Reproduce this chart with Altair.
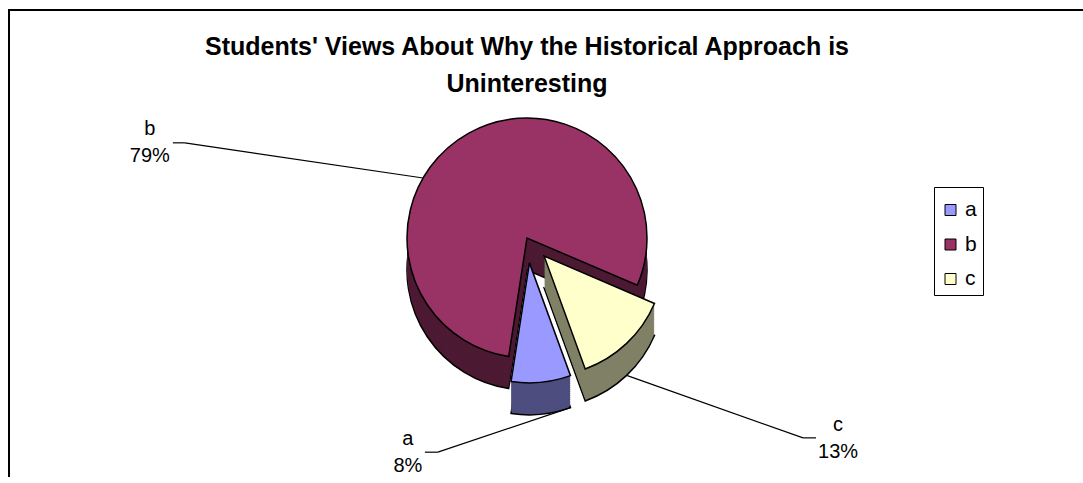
import math
import altair as alt
import pandas as pd

# ---- data ----
categories = ["a", "b", "c"]
values = [8, 79, 13]
top_colors = ["#9999FF", "#993366", "#FFFFCC"]
side_colors = ["#4D4D80", "#4D1A33", "#808066"]
title_lines = ["Students' Views About Why the Historical Approach is", "Uninteresting"]

# ---- layout / style ----
W, H = 1075, 467
START_DEG = 160.0
R = 120
CX, CY = 519, 228
DEPTH = 32
EXPLODE = {"a": 25, "b": 0, "c": 25}
# label radius, label angle offset (deg), leader anchor offset (deg),
# tick start dx, tick end dx (near pie), tick dy, leader from bottom face
LABEL = {
    "a": (239, 35.5, -14.4, 17, 30, 7, True),
    "b": (391, -45.7, -31, 23, 35, 8, False),
    "c": (366, -14.8, 0, -22, -35, 7, True),
}
FONT = "Liberation Sans"

total = sum(values)
deg_per = 360.0 / total
df = pd.DataFrame({"cat": categories, "value": values, "order": list(range(len(categories)))})

# explode offsets derived from the slice mid angles
offsets = {}
cum = 0
for cat, v in zip(categories, values):
    mid = math.radians(START_DEG + (cum + v / 2) * deg_per)
    e = EXPLODE[cat]
    offsets[cat] = (e * math.sin(mid), -e * math.cos(mid))
    cum += v

theta_scale = alt.Scale(domain=[0, total],
                        range=[math.radians(START_DEG), math.radians(START_DEG) + 2 * math.pi])
color_scale = alt.Scale(domain=categories, range=top_colors)
legend = alt.Legend(title=" ", titleFontSize=3, titlePadding=3.5, orient="none",
                    legendX=926, legendY=177,
                    strokeColor="black", padding=6, symbolType="square", symbolSize=121,
                    symbolStrokeColor="black", symbolStrokeWidth=1, labelFontSize=21,
                    labelFont=FONT, labelColor="black", rowPadding=12.5, labelOffset=4)

stacked = alt.Chart(df).transform_stack(
    stack="value", groupby=[], as_=["v0", "v1"],
    sort=[alt.SortField("order", order="ascending")])

layers = []

# frame (top and left border)
frame_data = alt.Data(values=[{}])
layers.append(alt.Chart(frame_data).mark_rule(color="black", strokeWidth=2).encode(
    x=alt.value(0), x2=alt.value(W), y=alt.value(0)))
layers.append(alt.Chart(frame_data).mark_rule(color="black", strokeWidth=2).encode(
    x=alt.value(1), y=alt.value(0), y2=alt.value(H + 10)))

for cat in ["b", "c", "a"]:
    i = categories.index(cat)
    ex, ey = offsets[cat]
    sel = stacked.transform_filter(alt.datum.cat == cat)
    enc = dict(theta=alt.Theta("v0:Q", scale=theta_scale), theta2="v1:Q")
    for k in range(DEPTH, 0, -2):
        kw = dict(x=CX + ex, y=CY + ey + k, outerRadius=R, fill=side_colors[i])
        if k == DEPTH:
            kw.update(stroke="black", strokeWidth=1.5)
        else:
            kw.update(strokeWidth=0)
        layers.append(sel.mark_arc(**kw).encode(**enc))
    layers.append(sel.mark_arc(x=CX + ex, y=CY + ey, outerRadius=R, stroke="black",
                               strokeWidth=1.5, opacity=1).encode(
        **enc, color=alt.Color("cat:N", scale=color_scale, legend=legend)))

# labels and leader lines
for cat in categories:
    ex, ey = offsets[cat]
    rl, loff, aoff, t0, t1, tdy, bottom = LABEL[cat]
    dep = DEPTH if bottom else 0
    sel = stacked.transform_filter(alt.datum.cat == cat)
    lab = sel.transform_calculate(
        lt=f"(datum.v0 + datum.v1) / 2 + {loff / deg_per}",
        label="datum.cat + '\\n' + datum.value + '%'",
    ).mark_text(x=CX, y=CY, radius=rl, fontSize=20, font=FONT, lineBreak="\n",
                lineHeight=27, align="center", baseline="alphabetic", color="black").encode(
        theta=alt.Theta("lt:Q", scale=theta_scale), text="label:N")
    layers.append(lab)
    geo = sel.transform_calculate(
        am=f"({START_DEG} + (datum.v0 + datum.v1) / 2 * {deg_per} + {aoff}) * PI / 180",
        lm=f"({START_DEG} + (datum.v0 + datum.v1) / 2 * {deg_per} + {loff}) * PI / 180",
    ).transform_calculate(
        sx=f"{CX + ex} + {R} * sin(datum.am)",
        sy=f"{CY + ey + dep} - {R} * cos(datum.am)",
        lx=f"{CX} + {rl} * sin(datum.lm)",
        ly=f"{CY} - {rl} * cos(datum.lm)",
    ).transform_calculate(
        tx0=f"datum.lx + {t0}",
        tx1=f"datum.lx + {t1}",
        ty=f"datum.ly + {tdy}",
    )
    layers.append(geo.mark_rule(color="black", strokeWidth=1.2).encode(
        x=alt.X("tx1:Q", scale=None, axis=None),
        y=alt.Y("ty:Q", scale=None, axis=None),
        x2="sx:Q", y2="sy:Q"))
    layers.append(geo.mark_rule(color="black", strokeWidth=1.2).encode(
        x=alt.X("tx0:Q", scale=None, axis=None),
        y=alt.Y("ty:Q", scale=None, axis=None),
        x2="tx1:Q"))

chart = alt.layer(*layers).properties(
    width=W, height=H,
    autosize=alt.AutoSizeParams(type="none"),
    padding={"left": 8, "top": 10, "right": 0, "bottom": 0},
    title=alt.TitleParams(text=title_lines, anchor="middle", fontSize=25, font=FONT,
                          fontWeight="bold", lineHeight=37, offset=0, dy=88, dx=-18.5,
                          color="black"),
).configure_view(stroke="transparent", strokeWidth=0)

chart.save("out.html", embed_options={"renderer": "svg", "actions": False})
